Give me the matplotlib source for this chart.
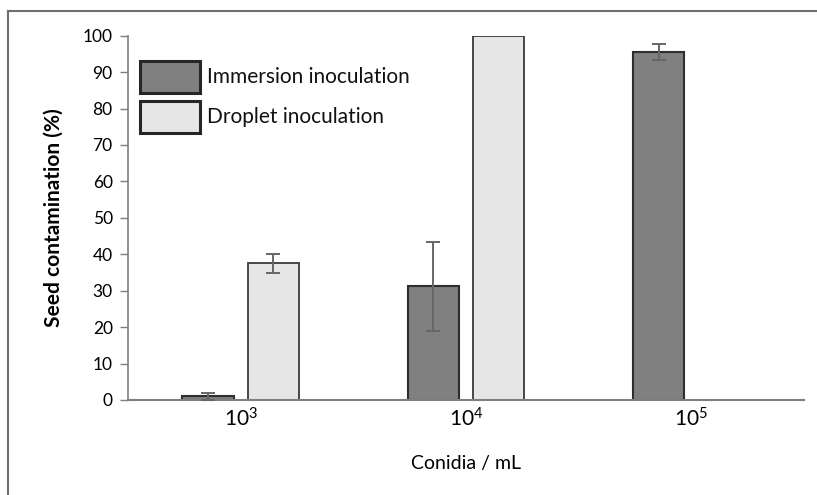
import matplotlib
matplotlib.use("Agg")
import matplotlib.pyplot as plt
import numpy as np
from matplotlib.lines import Line2D
from matplotlib.patches import Rectangle

plt.rcParams['font.family'] = ['Lato', 'DejaVu Sans']
plt.rcParams['mathtext.fontset'] = 'custom'
plt.rcParams['mathtext.rm'] = 'Lato'
plt.rcParams['mathtext.it'] = 'Lato:italic'
plt.rcParams['mathtext.bf'] = 'Lato:bold'

categories = [r'$\mathregular{10^3}$', r'$\mathregular{10^4}$', r'$\mathregular{10^5}$']
series_names = ['Immersion inoculation', 'Droplet inoculation']
immersion = [1.0, 31.2, 95.5]
immersion_err = [1.0, 12.2, 2.2]
droplet = [37.5, 100.0, 0.0]
droplet_err = [2.7, 0.0, 0.0]
yticks = list(range(0, 101, 10))

colors = ['#808080', '#e6e6e6']
edges = ['#2e2e2e', '#3a3a3a']

W, H = 817, 495
fig = plt.figure(figsize=(W / 100, H / 100), dpi=100)
AX0, AXY0, AXW, AXH = 128, 400, 676, 364.3
ax = fig.add_axes([AX0 / W, 1 - AXY0 / H, AXW / W, AXH / H])

x = np.arange(len(categories))
bw = 0.227
off = 0.145
err_kw = dict(fmt='none', ecolor='#666666', elinewidth=1.4, capsize=5, capthick=1.4, zorder=3)
ax.bar(x - off, immersion, bw, color=colors[0],
       edgecolor=edges[0], linewidth=1.5, label=series_names[0], zorder=2)
ax.bar(x + off, droplet, bw, color=colors[1],
       edgecolor=edges[1], linewidth=1.3, label=series_names[1], zorder=2)
for xs, vals, errs in [(x - off, immersion, immersion_err), (x + off, droplet, droplet_err)]:
    for xi, v, e in zip(xs, vals, errs):
        if e > 0:
            ax.errorbar([xi], [v], yerr=[e], **err_kw)

ax.set_xlim(-0.5, 2.5)
ax.set_ylim(0, 100)
ax.set_yticks(yticks)
ax.set_xticks(x)
ax.set_xticklabels(categories, fontsize=15)
ax.tick_params(axis='x', length=0, pad=5)
ax.tick_params(axis='y', length=6, width=1, color='#7f7f7f', labelsize=12.5, pad=5)
for s in ['top', 'right']:
    ax.spines[s].set_visible(False)
ax.spines['left'].set_color('#7f7f7f')
ax.spines['bottom'].set_color('#7f7f7f')
ax.spines['left'].set_linewidth(1.2)
ax.spines['bottom'].set_linewidth(1.5)

ax.set_ylabel('Seed contamination (%)', fontsize=15, fontweight='bold', labelpad=14)
ax.set_xlabel('Conidia / mL', fontsize=14, labelpad=18)

# legend (manual, pixel-placed)
def axpt(px, py):
    return (px - AX0) / AXW, (AXY0 - py) / AXH

for i, (name, fc, ec) in enumerate(zip(series_names, colors, edges)):
    top = 61 + 40 * i
    x0, y1 = axpt(140, top)
    x1, y0 = axpt(200, top + 32)
    ax.add_patch(Rectangle((x0, y0), x1 - x0, y1 - y0, transform=ax.transAxes,
                           facecolor=fc, edgecolor='#262626', linewidth=2.2,
                           clip_on=False, zorder=4))
    tx, ty = axpt(207, top + 16)
    ax.text(tx, ty, name, transform=ax.transAxes, fontsize=15, va='center', ha='left',
            color='#111111', zorder=4)

# outer frame
fig.add_artist(Line2D([8 / W, 1.0], [1 - 11 / H, 1 - 11 / H], transform=fig.transFigure,
                      color='#6e6e6e', linewidth=1.5))
fig.add_artist(Line2D([8 / W, 8 / W], [0, 1 - 11 / H], transform=fig.transFigure,
                      color='#6e6e6e', linewidth=1.5))

fig.savefig('out.png', dpi=100)
